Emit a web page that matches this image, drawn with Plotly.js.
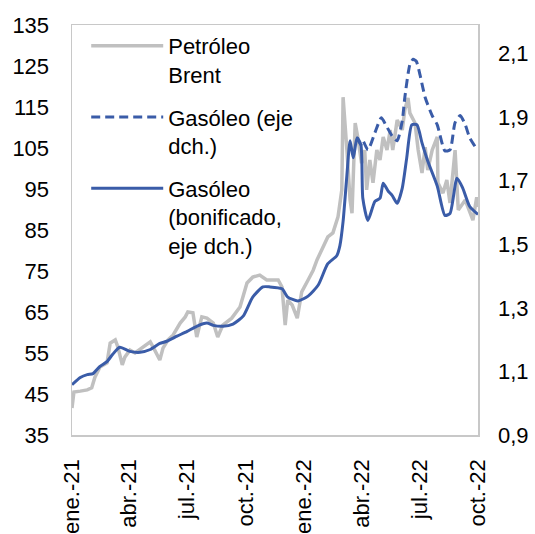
<!DOCTYPE html>
<html>
<head>
<meta charset="utf-8">
<script src="https://cdn.plot.ly/plotly-3.0.1.min.js"></script>
<style>html,body{margin:0;padding:0;background:#fff;}#chart{width:535px;height:534px;}</style>
</head>
<body>
<div id="chart"></div>
<script>
// Petróleo Brent (eje izq.)
const brentDates = ["2021-01-01","2021-01-04","2021-01-14","2021-01-25","2021-02-01","2021-02-06","2021-02-14","2021-02-25","2021-03-02","2021-03-10","2021-03-14","2021-03-21","2021-03-25","2021-04-02","2021-04-10","2021-04-21","2021-05-04","2021-05-11","2021-05-19","2021-05-24","2021-06-01","2021-06-09","2021-06-20","2021-06-28","2021-07-02","2021-07-10","2021-07-16","2021-07-24","2021-08-01","2021-08-11","2021-08-18","2021-08-26","2021-09-09","2021-09-22","2021-10-03","2021-10-12","2021-10-23","2021-11-03","2021-11-11","2021-11-21","2021-11-27","2021-12-02","2021-12-06","2021-12-13","2021-12-21","2021-12-28","2022-01-07","2022-01-15","2022-01-21","2022-01-30","2022-02-07","2022-02-15","2022-02-23","2022-03-01","2022-03-03","2022-03-09","2022-03-14","2022-03-17","2022-03-22","2022-03-26","2022-04-01","2022-04-06","2022-04-09","2022-04-14","2022-04-19","2022-04-25","2022-04-30","2022-05-05","2022-05-11","2022-05-16","2022-05-20","2022-05-27","2022-06-04","2022-06-08","2022-06-13","2022-06-16","2022-06-24","2022-06-29","2022-07-05","2022-07-10","2022-07-14","2022-07-21","2022-07-29","2022-07-30","2022-08-07","2022-08-13","2022-08-18","2022-08-26","2022-08-31","2022-09-11","2022-09-18","2022-09-23","2022-09-29","2022-10-01"];
const brentValues = [41.6,45.5,45.7,46.0,46.5,49.1,51.6,52.6,57.4,58.2,56.5,52.1,54.0,55.7,55.0,56.2,57.7,55.7,53.3,56.2,58.2,59.4,62.3,63.8,65.0,64.8,58.9,63.8,63.5,62.3,58.9,61.8,63.5,66.2,72.1,73.5,74.0,72.8,72.8,72.8,71.1,61.8,67.9,66.7,63.5,69.9,72.8,75.2,77.7,80.9,83.3,84.3,88.2,94.8,117.4,104.5,92.3,89.1,111.1,107.7,101.3,104.5,94.8,102.1,96.5,104.5,102.1,107.7,104.5,109.4,104.5,111.8,109.4,114.3,117.2,113.5,111.1,104.5,98.9,105.2,99.6,104.5,107.7,96.5,94.0,97.2,91.6,104.5,89.9,92.3,89.1,87.4,93.0,90.6];

// Gasóleo bonificado (eje dch.)
const bonifDates = ["2021-01-01","2021-01-14","2021-01-25","2021-02-03","2021-02-14","2021-02-25","2021-03-06","2021-03-17","2021-04-02","2021-04-18","2021-05-04","2021-05-19","2021-05-30","2021-06-15","2021-07-01","2021-07-16","2021-08-01","2021-08-11","2021-08-26","2021-09-11","2021-09-27","2021-10-12","2021-10-28","2021-11-08","2021-11-27","2021-12-06","2021-12-22","2022-01-07","2022-01-23","2022-02-07","2022-02-21","2022-02-26","2022-03-03","2022-03-09","2022-03-14","2022-03-19","2022-03-25","2022-03-31","2022-04-03","2022-04-11","2022-04-22","2022-04-30","2022-05-05","2022-05-13","2022-05-19","2022-05-27","2022-06-04","2022-06-11","2022-06-19","2022-06-27","2022-07-05","2022-07-14","2022-07-29","2022-08-10","2022-08-18","2022-08-29","2022-09-07","2022-09-18","2022-10-01"];
const bonifValues = [1.058,1.081,1.090,1.093,1.116,1.131,1.154,1.176,1.163,1.160,1.169,1.188,1.195,1.211,1.226,1.242,1.252,1.245,1.242,1.249,1.274,1.334,1.366,1.366,1.360,1.334,1.322,1.337,1.372,1.439,1.464,1.496,1.572,1.718,1.826,1.772,1.835,1.813,1.645,1.575,1.635,1.645,1.692,1.667,1.654,1.629,1.677,1.772,1.876,1.876,1.819,1.762,1.683,1.591,1.597,1.708,1.677,1.619,1.594];

// Gasóleo sin bonificar (eje dch.)
const gasoilDates = ["2022-03-25","2022-03-31","2022-04-03","2022-04-11","2022-04-22","2022-05-02","2022-05-09","2022-05-19","2022-05-27","2022-06-04","2022-06-08","2022-06-16","2022-06-21","2022-06-26","2022-07-02","2022-07-10","2022-07-21","2022-07-29","2022-08-10","2022-08-18","2022-08-26","2022-09-03","2022-09-11","2022-09-18","2022-10-01"];
const gasoilValues = [1.835,1.813,1.826,1.797,1.851,1.898,1.876,1.841,1.826,1.889,1.962,2.066,2.082,2.076,2.032,1.962,1.905,1.876,1.794,1.797,1.883,1.905,1.876,1.835,1.794];

const xTickVals = ["2021-01-01","2021-04-01","2021-07-01","2021-10-01","2022-01-01","2022-04-01","2022-07-01","2022-10-01"];
const xTickText = ["ene.-21","abr.-21","jul.-21","oct.-21","ene.-22","abr.-22","jul.-22","oct.-22"];
const leftTicks = [35,45,55,65,75,85,95,105,115,125,135];
const rightTicks = [0.9,1.1,1.3,1.5,1.7,1.9,2.1];
const seriesNames = ["Petróleo<br>Brent","Gasóleo (eje<br>dch.)","Gasóleo<br>(bonificado,<br>eje dch.)"];

const FONT = "Liberation Sans, Arial, sans-serif";
const FS = 22;
const BLUE = "#3a5ca8";
const GRAY = "#c0c0c0";

const traces = [
  {x: brentDates, y: brentValues, type: "scatter", mode: "lines", name: seriesNames[0],
   line: {color: GRAY, width: 3.5}, yaxis: "y", legendgroup: "a"},
  {x: gasoilDates, y: gasoilValues, type: "scatter", mode: "lines", name: seriesNames[1],
   line: {color: BLUE, width: 3, dash: "9px,5px", shape: "spline", smoothing: 0.6}, yaxis: "y2", legendgroup: "b"},
  {x: bonifDates, y: bonifValues, type: "scatter", mode: "lines", name: seriesNames[2],
   line: {color: BLUE, width: 3, shape: "spline", smoothing: 0.6}, yaxis: "y2", legendgroup: "c"}
];

const layout = {
  width: 535, height: 534,
  margin: {l: 72, r: 57, t: 25, b: 99},
  paper_bgcolor: "#fff", plot_bgcolor: "#fff",
  separators: ",.",
  font: {family: FONT, size: FS, color: "#000"},
  showlegend: true,
  legend: {x: 0.035, y: 1.0, xanchor: "left", yanchor: "top", bgcolor: "rgba(0,0,0,0)",
           font: {family: FONT, size: FS, color: "#000"}, itemwidth: 72, valign: "top",
           tracegroupgap: 11, traceorder: "grouped"},
  xaxis: {type: "date", range: ["2021-01-01","2022-10-01"], tickvals: xTickVals, ticktext: xTickText,
          tickangle: -90, showgrid: false, zeroline: false, showline: true, mirror: true,
          linecolor: "#c8c8c8", linewidth: 1.5, ticks: "", ticklabelstandoff: 14,
          tickfont: {family: FONT, size: FS, color: "#000"}},
  yaxis: {range: [35,135], tickvals: leftTicks, showgrid: false, zeroline: false, showline: true, mirror: true,
          linecolor: "#c8c8c8", linewidth: 1.5, ticks: "", ticklabelstandoff: 17,
          tickfont: {family: FONT, size: FS, color: "#000"}},
  yaxis2: {range: [0.9,2.19], tickvals: rightTicks, tickformat: ".1f", overlaying: "y", side: "right",
           showgrid: false, zeroline: false, showline: false, ticks: "", ticklabelstandoff: 19,
           tickfont: {family: FONT, size: FS, color: "#000"}}
};

Plotly.newPlot("chart", traces, layout, {staticPlot: true, displayModeBar: false});
</script>
</body>
</html>
